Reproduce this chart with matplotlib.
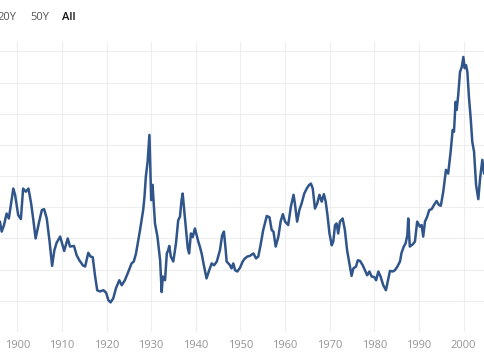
import matplotlib
matplotlib.use("Agg")
import matplotlib.pyplot as plt

# Shiller PE values (year, ratio)
years = [1895.8, 1896.1, 1896.5, 1897.0, 1897.6, 1898.1, 1898.6, 1899.1, 1899.5, 1900.2,
         1900.8, 1901.3, 1901.9, 1902.5, 1903.1, 1903.6, 1904.1, 1904.9, 1905.5, 1906.0,
         1906.6, 1907.2, 1907.8, 1908.3, 1908.8, 1909.6, 1910.5, 1911.3, 1911.8, 1912.7,
         1913.3, 1913.9, 1914.4, 1914.65, 1915.2, 1915.9, 1916.4, 1916.9, 1917.4, 1917.9,
         1918.5, 1919.3, 1919.9, 1920.4, 1920.9, 1921.5, 1922.1, 1922.85, 1923.4, 1924.1,
         1924.9, 1925.6, 1926.1, 1926.6, 1927.5, 1928.2, 1928.5, 1928.8, 1929.2, 1929.6,
         1930.0, 1930.3, 1930.85, 1931.4, 1932.0, 1932.35, 1932.6, 1933.1, 1933.5, 1933.8,
         1934.05, 1934.4, 1934.95, 1935.55, 1936.05, 1936.45, 1936.8, 1937.05, 1937.4, 1937.8,
         1938.2, 1938.5, 1938.9, 1939.3, 1939.8, 1940.2, 1940.55, 1940.9, 1941.3, 1941.8,
         1942.4, 1943.0, 1943.55, 1944.1, 1944.7, 1945.4, 1945.9, 1946.3, 1946.7, 1946.9,
         1947.3, 1947.65, 1948.0, 1948.4, 1948.8, 1949.3, 1949.9, 1950.5, 1951.0, 1951.55,
         1952.1, 1952.9, 1953.5, 1954.0, 1954.5, 1955.1, 1955.9, 1956.5, 1957.0, 1957.4,
         1957.9, 1958.5, 1959.0, 1959.5, 1960.0, 1960.7, 1961.3, 1961.9, 1962.2, 1962.7,
         1963.2, 1963.7, 1964.3, 1964.85, 1965.35, 1965.8, 1966.2, 1966.7, 1967.2, 1967.7,
         1968.2, 1968.7, 1969.1, 1969.5, 1969.95, 1970.45, 1970.8, 1971.2, 1971.55, 1971.9,
         1972.3, 1972.9, 1973.4, 1973.9, 1974.4, 1974.9, 1975.3, 1975.9, 1976.3, 1976.8,
         1977.4, 1977.9, 1978.4, 1978.9, 1979.4, 1980.0, 1980.4, 1980.9, 1981.4, 1982.0,
         1982.6, 1983.0, 1983.5, 1984.1, 1984.6, 1985.1, 1985.75, 1986.1, 1986.6, 1987.0,
         1987.4, 1987.6, 1987.95, 1988.6, 1989.1, 1989.6, 1990.2, 1990.6, 1990.95, 1991.35,
         1991.85, 1992.3, 1992.85, 1993.35, 1993.95, 1994.5, 1994.9, 1995.45, 1996.05, 1996.55,
         1997.1, 1997.55, 1997.85, 1998.2, 1998.45, 1998.8, 1999.2, 1999.6, 1999.95, 2000.25,
         2000.55, 2000.85, 2001.2, 2001.6, 2001.95, 2002.35, 2002.8, 2003.3, 2003.7, 2004.2,
         2004.6, 2005.2]
pe = [17.5, 17.7, 16.1, 17.1, 19.0, 18.2, 20.6, 23.0, 22.0, 18.75,
      18.1, 23.0, 22.5, 23.0, 20.6, 17.9, 15.0, 17.7, 19.55, 19.7,
      18.2, 14.7, 10.6, 13.1, 14.3, 15.3, 13.0, 15.0, 13.7, 13.8,
      12.3, 11.5, 11.0, 10.7, 10.5, 12.7, 12.1, 12.0, 9.1, 6.7,
      6.5, 6.7, 6.3, 5.1, 4.75, 5.4, 7.0, 8.3, 7.5, 8.3,
      9.7, 11.0, 11.3, 12.6, 16.35, 19.55, 21.7, 24.9, 27.3, 31.6,
      21.15, 23.6, 17.4, 15.3, 11.5, 6.4, 8.9, 8.3, 12.6, 13.1,
      13.8, 12.1, 11.3, 14.2, 17.9, 18.5, 21.15, 22.2, 19.55, 16.6,
      13.4, 12.6, 15.8, 15.2, 16.6, 15.5, 14.5, 13.7, 12.6, 10.7,
      8.6, 9.9, 11.0, 10.7, 11.3, 13.1, 15.5, 16.1, 13.1, 11.3,
      11.0, 10.7, 10.2, 11.0, 9.9, 9.7, 10.3, 11.3, 11.8, 12.1,
      12.2, 12.6, 11.8, 12.1, 13.9, 16.35, 18.6, 18.4, 16.35, 16.1,
      13.7, 15.3, 17.7, 18.9, 17.7, 17.15, 20.1, 22.0, 20.6, 17.7,
      19.55, 20.6, 22.2, 23.0, 23.55, 23.8, 23.0, 19.8, 20.6, 22.0,
      20.9, 22.1, 20.9, 18.75, 15.8, 13.9, 14.5, 17.15, 17.4, 15.8,
      17.7, 18.2, 16.35, 13.1, 11.0, 9.0, 10.2, 10.5, 11.5, 11.4,
      10.7, 9.9, 9.1, 9.7, 8.9, 8.8, 8.3, 9.7, 8.9, 7.5,
      6.7, 8.1, 9.8, 9.7, 9.9, 10.4, 11.3, 12.7, 13.7, 14.2,
      15.5, 18.2, 13.7, 14.05, 14.5, 17.7, 16.9, 17.15, 15.3, 17.7,
      18.5, 19.55, 19.7, 20.35, 21.0, 20.35, 20.25, 22.5, 26.0, 25.4,
      28.9, 32.4, 32.1, 36.9, 35.6, 38.0, 41.7, 42.5, 44.1, 42.3,
      42.8, 41.7, 37.7, 34.2, 30.5, 28.9, 23.55, 21.3, 24.6, 27.6,
      25.4, 26.5]

decades = list(range(1900, 2001, 10))
range_buttons = ["20Y", "50Y", "All"]

fig = plt.figure(figsize=(4.85, 3.6), dpi=100)
ax = fig.add_axes([0, 28 / 360, 1, (332 - 42) / 360])

ax.plot(years, pe, color="#30558a", linewidth=1.8, solid_joinstyle="round")

ax.set_xlim(1896.12, 2004.8)
ax.set_ylim(0, 46.5)
ax.set_xticks(decades)
ax.set_xticklabels([str(d) for d in decades])
ax.set_yticks(range(0, 46, 5))
ax.tick_params(axis="x", length=0, pad=6, labelsize=8, labelcolor="#959595")
ax.tick_params(axis="y", length=0, labelleft=False)
for lbl in ax.get_xticklabels():
    lbl.set_fontfamily("Open Sans")
ax.grid(True, color="#eeeeee", linewidth=0.8)
ax.set_axisbelow(True)
for s in ax.spines.values():
    s.set_visible(False)

# range selector text at the top left (first one cut off by the crop, as in the source)
xs = [-3, 30, 62]
for i, (lab, x) in enumerate(zip(range_buttons, xs)):
    last = i == len(range_buttons) - 1
    fig.text(x / 485, 1 - 17.5 / 360, lab, fontsize=8, family="Open Sans",
             color="#111111" if last else "#555555",
             fontweight="semibold" if last else "normal", va="center", ha="left")

fig.savefig("out.png", dpi=100)
